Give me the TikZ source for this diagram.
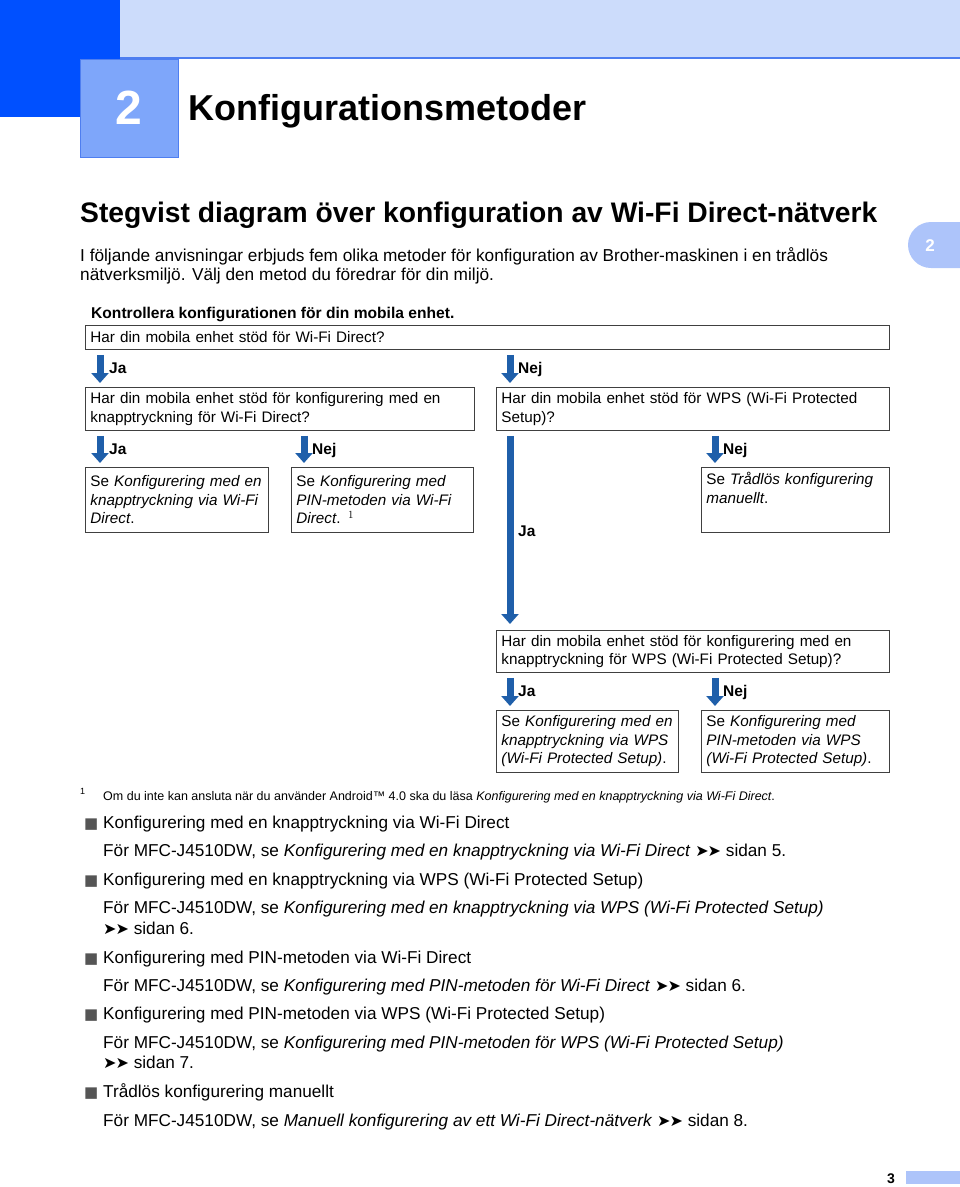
\documentclass[tikz,border=0pt]{standalone}
\usepackage{fontspec}
\setmainfont{Liberation Sans}
\newfontfamily\dejavu{DejaVu Sans}
\usetikzlibrary{arrows.meta,calc}
\definecolor{darkblue}{HTML}{0050FF}
\definecolor{bandblue}{HTML}{CCDCFB}
\definecolor{numblue}{HTML}{7EA6FA}
\definecolor{numedge}{HTML}{4E7EF0}
\definecolor{tabblue}{HTML}{ADC4FA}
\definecolor{arrowblue}{HTML}{1F5FAA}
\definecolor{bulletgray}{HTML}{555555}
\newcommand{\chevs}{{\dejavu\fontsize{16}{16}\selectfont ➤\kern-1pt➤}}
\tikzset{
  box/.style={draw=black!75, line width=0.9pt, anchor=north west, inner xsep=5pt, inner ysep=0pt,
    align=left, font=\fontsize{15.25}{18.5}\selectfont},
  barrow/.style={draw=arrowblue, line width=7pt, -{Triangle[width=17pt,length=10pt]}},
  lab/.style={anchor=base west, inner sep=0pt, font=\bfseries\fontsize{15.5}{18.5}\selectfont},
  txt/.style={anchor=base west, inner sep=0pt},
  bul/.style={anchor=base west, inner sep=0pt, text=bulletgray, font=\dejavu\fontsize{15}{15}\selectfont},
}
\begin{document}
\begin{tikzpicture}[x=1pt,y=-1pt]
\useasboundingbox (0,0) rectangle (960,1187);
% header
\fill[bandblue] (120,0) rectangle (960,58);
\draw[numedge, line width=1.2pt] (120,58) -- (960,58);
\fill[darkblue] (0,0) rectangle (120,117);
\fill[numblue] (80,59) rectangle (178,157);
\draw[numedge, line width=0.8pt] (80,59) rectangle (178,157);
\node (chapnum) [anchor=base, inner sep=0pt, text=white, font=\bfseries\fontsize{48}{48}\selectfont] at (129,124) {2};
\node (chaptitle) [txt, font=\bfseries\fontsize{36}{36}\selectfont] at (188,120) {Konfigurationsmetoder};
% side tab
\fill[tabblue] (960,222) -- (931,222) arc[start angle=270, end angle=90, radius=23] -- (960,268) -- cycle;
\node (tabnum) [inner sep=0pt, text=white, font=\bfseries\fontsize{17}{17}\selectfont] at (930,246) {2};
% heading and intro
\node (heading) [txt, font=\bfseries\fontsize{28.25}{28.25}\selectfont] at (80,222) {Stegvist diagram över konfiguration av Wi-Fi Direct-nätverk};
\node (intro1) [txt, font=\fontsize{17.25}{19}\selectfont] at (80,261) {I följande anvisningar erbjuds fem olika metoder för konfiguration av Brother-maskinen i en trådlös};
\node (intro2) [txt, font=\fontsize{17.25}{19}\selectfont] at (80,280) {nätverksmiljö. Välj den metod du föredrar för din miljö.};
\node (check) [txt, font=\bfseries\fontsize{15.6}{18.5}\selectfont] at (91,318) {Kontrollera konfigurationen för din mobila enhet.};
% boxes
\node (b1) [box, minimum width=804pt, minimum height=24pt, text width=794pt] at (85,325) {Har din mobila enhet stöd för Wi-Fi Direct?};
\node (b2) [box, minimum width=389pt, minimum height=43pt, text width=379pt] at (85,387) {Har din mobila enhet stöd för konfigurering med en\\knapptryckning för Wi-Fi Direct?};
\node (b3) [box, minimum width=393pt, minimum height=43pt, text width=383pt] at (496,387) {Har din mobila enhet stöd för WPS (Wi-Fi Protected\\Setup)?};
\node (b4) [box, minimum width=183pt, minimum height=65pt, text width=173pt] at (85,467) {Se \textit{Konfigurering med en}\\\textit{knapptryckning via Wi-Fi}\\\textit{Direct}.};
\node (b5) [box, minimum width=182pt, minimum height=65pt, text width=172pt] at (291,467) {Se \textit{Konfigurering med}\\\textit{PIN-metoden via Wi-Fi}\\\textit{Direct}. $^{\fontsize{10}{10}\selectfont 1}$};
\node (b6) [box, minimum width=188pt, minimum height=65pt, text width=178pt] at (701,467) {Se \textit{Trådlös konfigurering}\\\textit{manuellt}.\\\strut};
\node (b7) [box, minimum width=393pt, minimum height=42pt, text width=383pt] at (496,630) {Har din mobila enhet stöd för konfigurering med en\\knapptryckning för WPS (Wi-Fi Protected Setup)?};
\node (b8) [box, minimum width=182pt, minimum height=62pt, text width=172pt] at (496,710) {Se \textit{Konfigurering med en}\\\textit{knapptryckning via WPS}\\\textit{(Wi-Fi Protected Setup)}.};
\node (b9) [box, minimum width=188pt, minimum height=62pt, text width=178pt] at (701,710) {Se \textit{Konfigurering med}\\\textit{PIN-metoden via WPS}\\\textit{(Wi-Fi Protected Setup)}.};
% arrows
\draw[barrow] ($(b1.south west)+(15,5)$) -- ($(b2.north west)+(15,-4)$);
\node (l1) [lab] at ($(b1.south west)+(24,24)$) {Ja};
\draw[barrow] ($(b1.south -| b3.west)+(14,5)$) -- ($(b3.north west)+(14,-4)$);
\node (l2) [lab] at ($(b1.south -| b3.west)+(22,24)$) {Nej};
\draw[barrow] ($(b2.south west)+(15,5)$) -- ($(b4.north west)+(15,-4)$);
\node (l3) [lab] at ($(b2.south west)+(24,24)$) {Ja};
\draw[barrow] ($(b2.south -| b5.west)+(13,5)$) -- ($(b5.north west)+(13,-4)$);
\node (l4) [lab] at ($(b2.south -| b5.west)+(21,24)$) {Nej};
\draw[barrow] ($(b3.south west)+(14,5)$) -- ($(b7.north west)+(14,-6)$);
\node (l5) [lab] at ($(b3.south west)+(22,106)$) {Ja};
\draw[barrow] ($(b3.south -| b6.west)+(14,5)$) -- ($(b6.north west)+(14,-4)$);
\node (l6) [lab] at ($(b3.south -| b6.west)+(22,24)$) {Nej};
\draw[barrow] ($(b7.south west)+(14,5)$) -- ($(b8.north west)+(14,-4)$);
\node (l7) [lab] at ($(b7.south west)+(22,24)$) {Ja};
\draw[barrow] ($(b7.south -| b9.west)+(14,5)$) -- ($(b9.north west)+(14,-4)$);
\node (l8) [lab] at ($(b7.south -| b9.west)+(22,24)$) {Nej};
% footnote
\node (fnmark) [txt, font=\fontsize{9}{9}\selectfont] at (80,794) {1};
\node (fntext) [txt, font=\fontsize{12.5}{15}\selectfont] at (103,800) {Om du inte kan ansluta när du använder Android™ 4.0 ska du läsa \textit{Konfigurering med en knapptryckning via Wi-Fi Direct}.};
% bullet list
\begin{scope}[every node/.append style={font=\fontsize{17.2}{20}\selectfont}]
\node (s1) [bul] at (84,828) {■};
\node (i1) [txt] at (103,828) {Konfigurering med en knapptryckning via Wi-Fi Direct};
\node (r1) [txt] at (103,856) {För MFC-J4510DW, se \textit{Konfigurering med en knapptryckning via Wi-Fi Direct} \chevs{} sidan 5.};
\node (s2) [bul] at (84,885) {■};
\node (i2) [txt] at (103,885) {Konfigurering med en knapptryckning via WPS (Wi-Fi Protected Setup)};
\node (r2) [txt] at (103,913) {För MFC-J4510DW, se \textit{Konfigurering med en knapptryckning via WPS (Wi-Fi Protected Setup)}};
\node (r2b) [txt] at (103,934) {\chevs{} sidan 6.};
\node (s3) [bul] at (84,963) {■};
\node (i3) [txt] at (103,963) {Konfigurering med PIN-metoden via Wi-Fi Direct};
\node (r3) [txt] at (103,991) {För MFC-J4510DW, se \textit{Konfigurering med PIN-metoden för Wi-Fi Direct} \chevs{} sidan 6.};
\node (s4) [bul] at (84,1019) {■};
\node (i4) [txt] at (103,1019) {Konfigurering med PIN-metoden via WPS (Wi-Fi Protected Setup)};
\node (r4) [txt] at (103,1048) {För MFC-J4510DW, se \textit{Konfigurering med PIN-metoden för WPS (Wi-Fi Protected Setup)}};
\node (r4b) [txt] at (103,1068) {\chevs{} sidan 7.};
\node (s5) [bul] at (84,1097) {■};
\node (i5) [txt] at (103,1097) {Trådlös konfigurering manuellt};
\node (r5) [txt] at (103,1126) {För MFC-J4510DW, se \textit{Manuell konfigurering av ett Wi-Fi Direct-nätverk} \chevs{} sidan 8.};
\end{scope}
% page number
\fill[tabblue] (906,1171) rectangle (960,1184);
\node (pnum) [txt, font=\bfseries\fontsize{14}{14}\selectfont] at (887,1183) {3};
\end{tikzpicture}
\end{document}
